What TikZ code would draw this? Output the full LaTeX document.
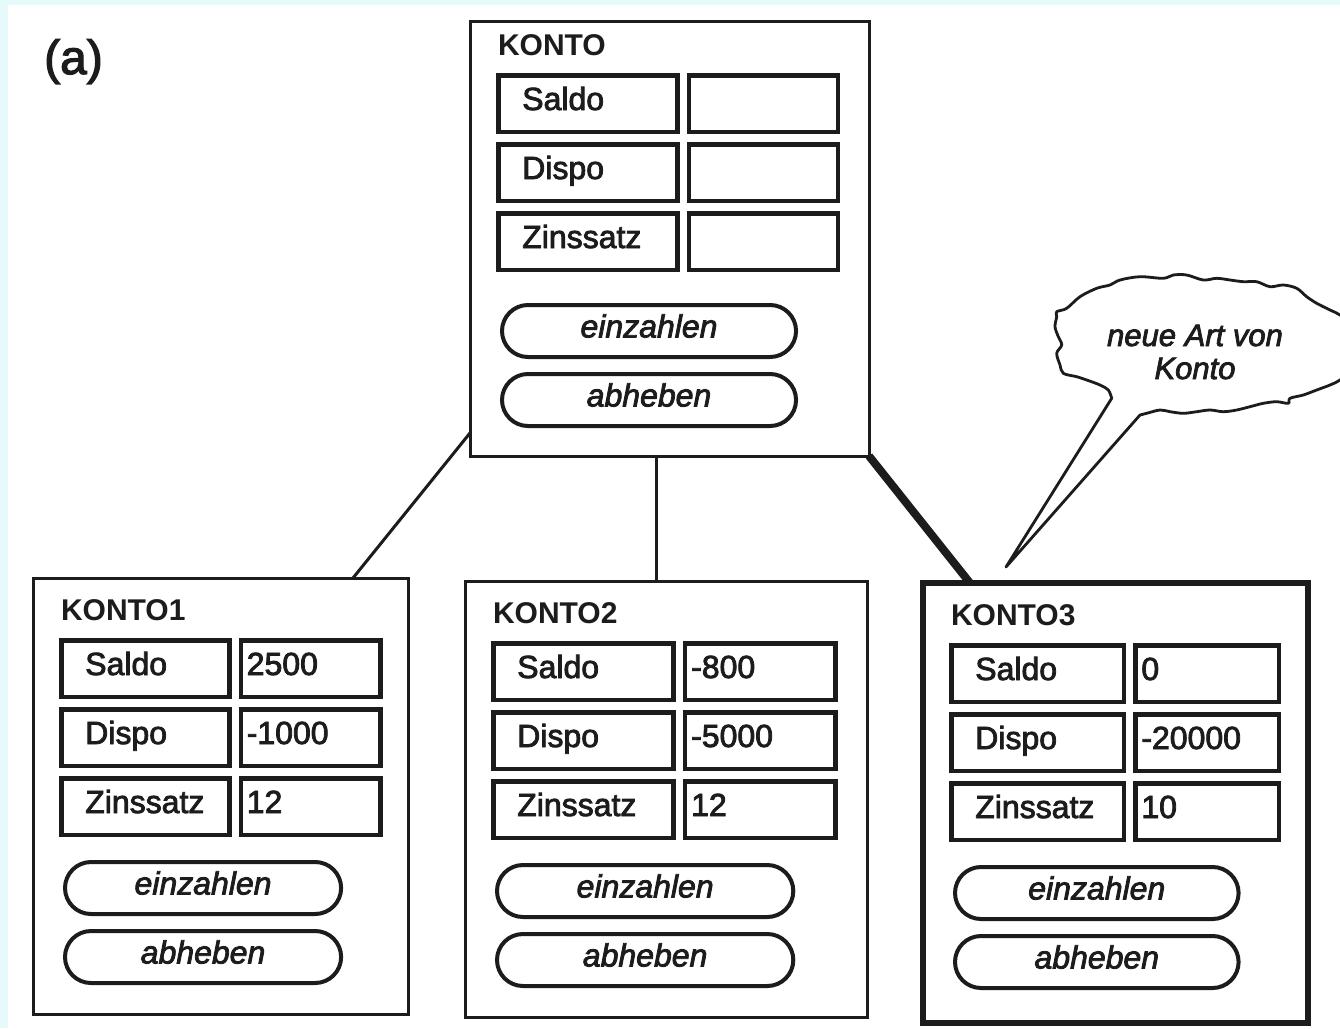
\documentclass[tikz,border=0pt]{standalone}
\usepackage{fontspec}
\setmainfont{Liberation Sans}
\newfontfamily\kheavy{Liberation Sans}[FakeBold=2.5]
\definecolor{ink}{RGB}{28,28,28}
\definecolor{cyanbg}{RGB}{230,250,252}
\newcommand\kfieldfont{\kheavy\fontsize{32}{38}\selectfont}
\newcommand\kbtnfont{\kheavy\fontsize{32}{38}\selectfont\itshape}
\newcommand\ktitlefont{\fontsize{30}{36}\selectfont\bfseries}
\newcommand\kcloudfont{\kheavy\fontsize{31}{33}\selectfont\itshape}
\tikzset{
  outerbox/.style={draw=ink, inner sep=0pt, outer sep=0pt, rectangle},
  fieldbox/.style={draw=ink, line width=4.5pt, inner sep=0pt, outer sep=0pt, minimum height=56.5pt,
    text height=22pt, text depth=9pt, align=left, font=\kfieldfont, text=ink, anchor=north west},
  btn/.style={draw=ink, line width=4pt, rounded corners=26pt, inner sep=0pt, outer sep=0pt,
    minimum height=52pt, text height=22pt, text depth=9pt, font=\kbtnfont, text=ink, anchor=north west},
  titletxt/.style={font=\ktitlefont, text=ink, inner sep=0pt, outer sep=0pt, anchor=base west},
  conn/.style={draw=ink, line width=3pt},
  thickconn/.style={draw=ink, line width=8pt},
  cloudline/.style={draw=ink, line width=2.8pt, line join=round, fill=white},
}
% #1 name, #2 x0, #3 y0, #4 width, #5 height, #6 title
\newcommand\kbox[6]{%
  \pgfmathsetmacro\lw{0.46*#4-4.5}%
  \pgfmathsetmacro\vw{0.385*#4-4.5}%
  \pgfmathsetmacro\bwid{0.747*#4-4}%
  \pgfmathsetmacro\lx{#2+28.25}%
  \pgfmathsetmacro\vx{#2+26+0.46*#4+9.25}%
  \pgfmathsetmacro\ry{#3+\tb+20.25}%
  \node[outerbox, line width=\obw, minimum width=#4pt, minimum height=#5pt, anchor=north west] (#1) at (#2,#3) {};
  \node[titletxt] (#1-t) at (#2+28,#3+\tb) {#6};
  \node[fieldbox, text width=\lw pt] (#1-l1) at (\lx,\ry) {\hspace*{24pt}Saldo};
  \node[fieldbox, text width=\vw pt] (#1-v1) at (\vx,\ry) {\hspace*{6pt}\va};
  \node[fieldbox, text width=\lw pt] (#1-l2) at (\lx,\ry+69) {\hspace*{24pt}Dispo};
  \node[fieldbox, text width=\vw pt] (#1-v2) at (\vx,\ry+69) {\hspace*{6pt}\vb};
  \node[fieldbox, text width=\lw pt] (#1-l3) at (\lx,\ry+138) {\hspace*{24pt}Zinssatz};
  \node[fieldbox, text width=\vw pt] (#1-v3) at (\vx,\ry+138) {\hspace*{6pt}\vc};
  \node[btn, minimum width=\bwid pt] (#1-b1) at (#2+32,#3+284) {einzahlen};
  \node[btn, minimum width=\bwid pt] (#1-b2) at (#2+32,#3+353) {abheben};
}
\begin{document}
\begin{tikzpicture}[x=1pt,y=-1pt]
\useasboundingbox (0,0) rectangle (1340,1028);
\clip (0,0) rectangle (1340,1028);
\fill[white] (0,0) rectangle (1340,1028);
\fill[cyanbg] (0,0) rectangle (1340,5);
\fill[cyanbg] (0,0) rectangle (8,1028);

\node[font=\kheavy\fontsize{48}{52}\selectfont, text=ink, anchor=base west, inner sep=0pt] (lbl) at (44,74) {(a)};

\def\obw{3pt}
\def\tb{34}\def\va{}\def\vb{}\def\vc{}
\kbox{k0}{470}{21}{399}{435}{KONTO}
\def\tb{42}\def\va{2500}\def\vb{-1000}\def\vc{12}
\kbox{k1}{33}{578}{375}{436}{KONTO1}
\def\va{-800}\def\vb{-5000}\def\vc{12}
\kbox{k2}{465}{581}{402}{436}{KONTO2}
\def\obw{6pt}
\def\va{0}\def\vb{-20000}\def\vc{10}
\kbox{k3}{923}{583}{385}{440}{KONTO3}

% connectors
\draw[conn] (k0.west |- 0,433) -- (k1.north -| 353,0);
\draw[conn] (k0.south -| 656,0) -- (k2.north -| 656,0);
\draw[thickconn] (k0.south east) -- (k3.north -| 970,0);

% speech cloud
\coordinate (tip) at (1006,567);
\draw[cloudline] (1111.7,398.3) -- (tip) -- (1140,415)
  -- plot[smooth, tension=0.55] coordinates {
   (1140,415) (1146.7,413.3) (1160,410) (1170,411.7) (1183.3,413.3) (1196.7,411.7)
   (1210,410) (1223.3,411.7) (1236.7,410) (1250,406.7) (1263.3,403.3) (1276.7,401.7)
   (1288.3,403.3) (1290,398.3) (1303.3,395) (1316.7,390) (1330,385) (1340,380)
   (1350,370) (1352,345) (1350,325) (1340,315) (1330,310) (1316.7,303.3) (1306.7,296.7)
   (1296.7,288.3) (1283.3,285) (1270,286.7) (1256.7,281.7) (1243.3,281.7) (1230,280)
   (1216.7,278.3) (1203.3,280) (1186.7,275) (1173.3,275) (1163.3,278.3) (1140,276.7)
   (1120,280) (1110,285) (1096.7,288.3) (1080,296.7) (1066.7,308.3) (1056.7,311.7)
   (1056.7,316.7) (1055,326.7) (1058.3,336.7) (1061.7,345) (1056.7,353.3) (1060,365)
   (1063.3,373.3) (1076.7,376.7) (1086.7,380) (1100,385) (1108.3,390) (1111.7,398.3)}
  -- cycle;
\node[font=\kcloudfont, align=center, text=ink] (cloudtxt) at (1195,352) {neue Art von\\Konto};
\end{tikzpicture}
\end{document}
